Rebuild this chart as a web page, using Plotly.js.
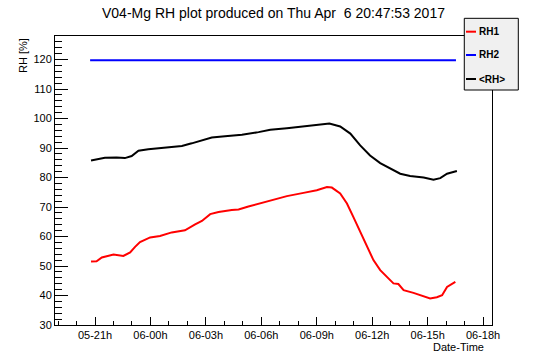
<!DOCTYPE html>
<html>
<head>
<meta charset="utf-8">
<script src="https://cdn.plot.ly/plotly-3.0.1.min.js"></script>
<style>html,body{margin:0;padding:0;background:#fff;}#chart{width:546px;height:362px;}</style>
</head>
<body>
<div id="chart"></div>
<script>
const rh1Time = ["2017-04-05 20:47","2017-04-05 21:05","2017-04-05 21:22","2017-04-05 22:00","2017-04-05 22:32","2017-04-05 22:54","2017-04-05 23:10","2017-04-05 23:26","2017-04-05 23:59","2017-04-06 00:31","2017-04-06 01:09","2017-04-06 01:52","2017-04-06 02:25","2017-04-06 02:47","2017-04-06 03:14","2017-04-06 03:41","2017-04-06 04:24","2017-04-06 04:46","2017-04-06 05:18","2017-04-06 06:02","2017-04-06 06:39","2017-04-06 07:23","2017-04-06 08:17","2017-04-06 09:00","2017-04-06 09:33","2017-04-06 09:49","2017-04-06 10:16","2017-04-06 10:38","2017-04-06 10:59","2017-04-06 11:21","2017-04-06 11:43","2017-04-06 12:04","2017-04-06 12:26","2017-04-06 12:48","2017-04-06 13:09","2017-04-06 13:25","2017-04-06 13:42","2017-04-06 14:14","2017-04-06 14:47","2017-04-06 15:08","2017-04-06 15:30","2017-04-06 15:47","2017-04-06 16:03","2017-04-06 16:30"];
const rh1Val = [51.5,51.6,52.9,53.9,53.4,54.6,56.5,58.1,59.7,60.2,61.4,62.1,64.1,65.3,67.6,68.3,69.0,69.2,70.2,71.5,72.6,73.7,74.8,75.7,76.8,76.6,74.6,71.2,66.6,61.6,56.5,52.0,48.6,46.3,44.1,43.9,41.8,40.9,39.9,39.0,39.4,40.1,42.9,44.6];

const rh2Time = ["2017-04-05 20:44","2017-04-06 16:32"];
const rh2Val = [119.8,119.8];

const avgTime = ["2017-04-05 20:47","2017-04-05 21:11","2017-04-05 21:32","2017-04-05 22:10","2017-04-05 22:37","2017-04-05 22:59","2017-04-05 23:21","2017-04-05 23:53","2017-04-06 00:47","2017-04-06 01:42","2017-04-06 02:14","2017-04-06 02:47","2017-04-06 03:19","2017-04-06 04:02","2017-04-06 04:57","2017-04-06 05:51","2017-04-06 06:29","2017-04-06 07:23","2017-04-06 08:17","2017-04-06 09:11","2017-04-06 09:41","2017-04-06 10:16","2017-04-06 10:49","2017-04-06 11:21","2017-04-06 11:53","2017-04-06 12:26","2017-04-06 12:58","2017-04-06 13:31","2017-04-06 14:03","2017-04-06 14:47","2017-04-06 15:19","2017-04-06 15:41","2017-04-06 16:03","2017-04-06 16:35"];
const avgVal = [85.8,86.4,86.7,86.8,86.6,87.3,89.1,89.6,90.1,90.7,91.6,92.7,93.6,94.0,94.5,95.4,96.2,96.7,97.3,98.0,98.3,97.3,94.9,90.9,87.5,84.9,83.2,81.3,80.5,80.0,79.3,79.8,81.3,82.2];

const seriesNames = ["RH1","RH2","&lt;RH&gt;"];
const seriesColors = ["#ff0000","#0000ff","#000000"];
const titleText = "V04-Mg RH plot produced on Thu Apr \u00a06 20:47:53 2017";
const xTitle = "Date-Time";
const yTitle = "RH [%]";

const FONT = "Liberation Sans, Arial, Helvetica, sans-serif";
const seriesX = [rh1Time, rh2Time, avgTime];
const seriesY = [rh1Val, rh2Val, avgVal];

const traces = seriesX.map((xs, i) => ({
  type: "scatter", mode: "lines", x: xs, y: seriesY[i],
  line: {color: seriesColors[i], width: 2},
  name: seriesNames[i], showlegend: false, hoverinfo: "skip"
}));

// custom legend box (paper coords)
const legX0 = 0.9366, legX1 = 1.0602, legY0 = 0.8131, legY1 = 1.0612;
const legRows = [1.0149, 0.9343, 0.8512];
const shapes = [{type:"rect", xref:"paper", yref:"paper", x0:legX0, x1:legX1, y0:legY0, y1:legY1,
  fillcolor:"#f0f0f0", line:{color:"#000", width:1}, layer:"above"}];
const annotations = [];
seriesNames.forEach((n, i) => {
  shapes.push({type:"line", xref:"paper", yref:"paper", x0:0.9405, x1:0.9634, y0:legRows[i], y1:legRows[i],
    line:{color:seriesColors[i], width:2}, layer:"above"});
  annotations.push({xref:"paper", yref:"paper", x:0.9668, y:legRows[i], xanchor:"left", yanchor:"middle",
    text:"<b>"+n+"</b>", showarrow:false, font:{family:FONT, size:10, color:"#000"}});
});
annotations.push({xref:"paper", yref:"paper", x:0.9856, y:-0.0761, xanchor:"right", yanchor:"middle",
  text:xTitle, showarrow:false, font:{family:FONT, size:11, color:"#000"}});
annotations.push({xref:"paper", yref:"paper", x:-0.0732, y:0.9308, xanchor:"center", yanchor:"middle",
  text:yTitle, textangle:-90, showarrow:false, font:{family:FONT, size:11, color:"#000"}});

const layout = {
  width: 546, height: 362,
  margin: {l:55, r:54, t:36, b:37, pad:0},
  paper_bgcolor:"#fff", plot_bgcolor:"#fff",
  font: {family: FONT, size: 11, color:"#000"},
  title: {text: titleText, font:{family:FONT, size:14, color:"#000"}, x:0.5, xref:"paper", xanchor:"center", y:1-13/362, yref:"container", yanchor:"middle"},
  showlegend: false,
  xaxis: {
    type:"date", range:["2017-04-05 18:50","2017-04-06 18:29"],
    tickformat:"%d-%Hh", tick0:"2017-04-05 00:00", dtick:10800000,
    ticks:"inside", ticklen:8, tickwidth:1, tickcolor:"#000",
    minor:{dtick:3600000, ticks:"inside", ticklen:4, tickcolor:"#000", tickwidth:1, showgrid:false},
    showline:true, linecolor:"#000", linewidth:1, mirror:true,
    showgrid:false, zeroline:false, tickfont:{family:FONT, size:11, color:"#000"}
  },
  yaxis: {
    range:[30,128], tick0:30, dtick:10,
    ticks:"inside", ticklen:13, tickwidth:1, tickcolor:"#000",
    minor:{dtick:2, ticks:"inside", ticklen:7, tickcolor:"#000", tickwidth:1, showgrid:false},
    showline:true, linecolor:"#000", linewidth:1, mirror:true,
    showgrid:false, zeroline:false, tickfont:{family:FONT, size:11, color:"#000"}
  },
  shapes: shapes,
  annotations: annotations
};

Plotly.newPlot("chart", traces, layout, {staticPlot:true, displayModeBar:false});
</script>
</body>
</html>
